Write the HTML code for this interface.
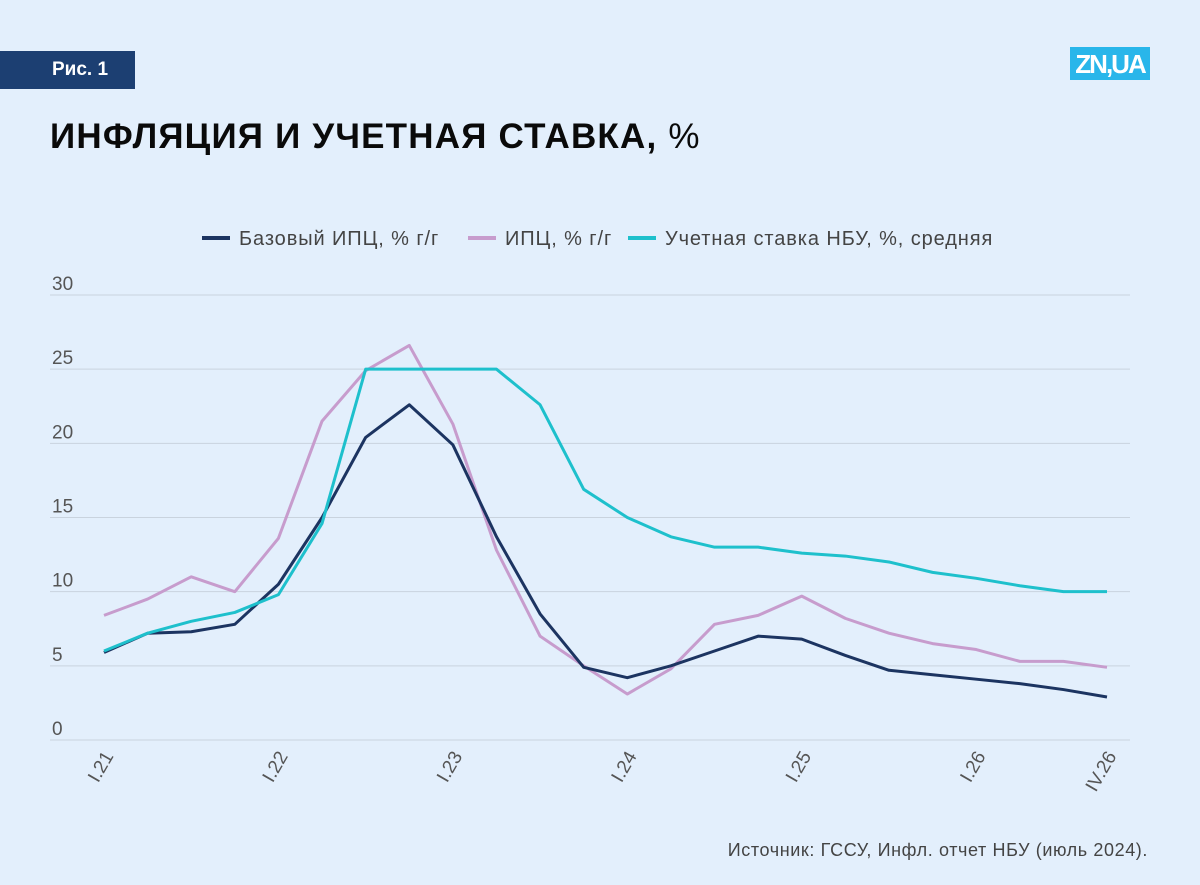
<!DOCTYPE html>
<html><head><meta charset="utf-8"><style>
body{margin:0;width:1200px;height:885px;background:#e3effc;font-family:"Liberation Sans","DejaVu Sans",sans-serif;overflow:hidden;position:relative}
.tag{position:absolute;left:0;top:51px;width:135px;height:38px;background:#1c3f72;color:#fff;font-weight:bold;font-size:19px;line-height:38px;text-indent:52px}
.logo{position:absolute;left:1070px;top:47px;width:80px;height:33px;background:#29b6ea;color:#fff;font-weight:bold;font-size:26px;line-height:34px;text-align:center;letter-spacing:-2px}
.title{position:absolute;left:50px;top:117px;font-size:35px;font-weight:bold;color:#0a0a0a;letter-spacing:1.2px}
.src{position:absolute;right:52px;top:840px;font-size:18px;color:#444;letter-spacing:0.6px}
</style></head><body>
<div class="tag">Рис. 1</div>
<div class="logo">ZN,UA</div>
<div class="title">ИНФЛЯЦИЯ И УЧЕТНАЯ СТАВКА, <span style="font-weight:normal">%</span></div>
<svg id="chart" width="1200" height="885" style="position:absolute;left:0;top:0"></svg>
<div class="src">Источник: ГССУ, Инфл. отчет НБУ (июль 2024).</div>
<script>
const xLabels=["I.21","I.22","I.23","I.24","I.25","I.26","IV.26"];
const xLabelIdx=[0,4,8,12,16,20,23];
const yTicks=[0,5,10,15,20,25,30];
const coreCPI=[5.9,7.2,7.3,7.8,10.5,15,20.4,22.6,19.9,13.7,8.5,4.9,4.2,5,6,7,6.8,5.7,4.7,4.4,4.1,3.8,3.4,2.9];
const cpi=[8.4,9.5,11,10,13.6,21.5,24.9,26.6,21.3,12.8,7,5,3.1,4.8,7.8,8.4,9.7,8.2,7.2,6.5,6.1,5.3,5.3,4.9];
const rate=[6,7.2,8,8.6,9.8,14.6,25,25,25,25,22.6,16.9,15,13.7,13,13,12.6,12.4,12,11.3,10.9,10.4,10,10];
const seriesNames=["Базовый ИПЦ, % г/г","ИПЦ, % г/г","Учетная ставка НБУ, %, средняя"];
const NS="http://www.w3.org/2000/svg",svg=document.getElementById('chart');
const x=i=>104+i*(1003/23), y=v=>740-v*(445/30);
function mk(t,a){const e=document.createElementNS(NS,t);for(const k in a)e.setAttribute(k,a[k]);svg.appendChild(e);return e;}
yTicks.forEach(v=>{
 if(v>0){const g=mk('line',{x1:50,x2:1130,y1:y(v),y2:y(v),stroke:'#c9d3de','stroke-width':1});
 
 }
 const t=mk('text',{x:52,y:y(v)-5,'font-size':19,fill:'#555'});t.textContent=v;
 
 
});
const ax=mk('line',{x1:50,x2:1130,y1:740,y2:740,stroke:'#c9d3de'});


xLabels.forEach((l,k)=>{
 const px=x(xLabelIdx[k]);
 const t=mk('text',{x:px+10,y:756,'font-size':19,fill:'#555','text-anchor':'end',transform:`rotate(-60 ${px+10} 756)`});t.textContent=l;
 
 
});
const data=[coreCPI,cpi,rate],cols=['#1c3461','#c79ccd','#1ec0cc'],names=['core-cpi-line','cpi-line','nbu-rate-line'];
[1,0,2].forEach(s=>{
 const p=mk('polyline',{points:data[s].map((v,i)=>x(i)+','+y(v)).join(' '),fill:'none',stroke:cols[s],'stroke-width':3,'stroke-linejoin':'round'});
 
 
});
const lx=[202,468,628];
seriesNames.forEach((n,s)=>{
 const l=mk('line',{x1:lx[s],x2:lx[s]+28,y1:238,y2:238,stroke:cols[s],'stroke-width':4});
 
 
 const t=mk('text',{x:lx[s]+37,y:245,'font-size':20,fill:'#444','letter-spacing':'0.9'});t.textContent=n;
 
 
});
</script>
</body></html>
